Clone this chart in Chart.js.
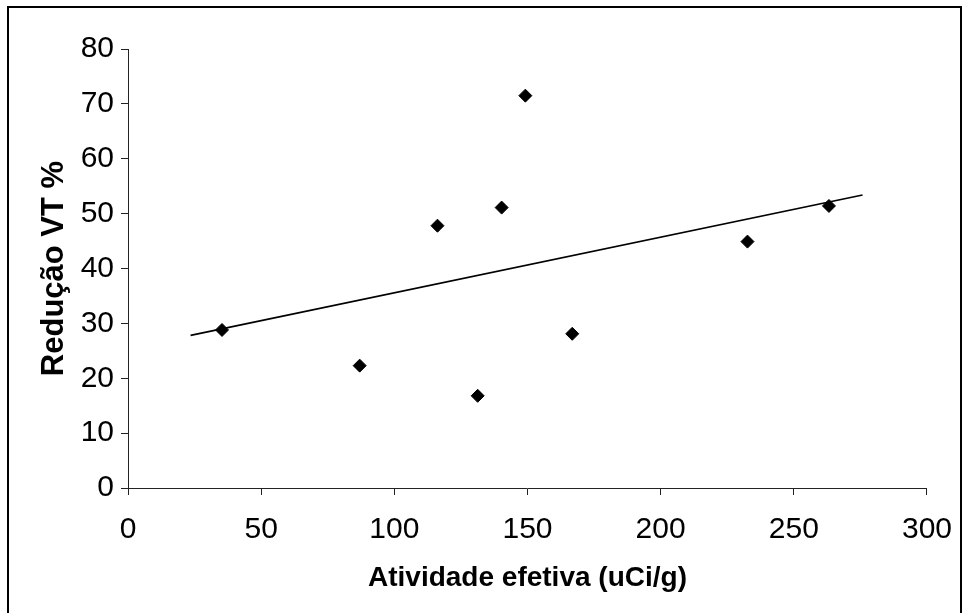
<!DOCTYPE html>
<html>
<head>
<meta charset="utf-8">
<script src="https://cdn.jsdelivr.net/npm/chart.js@4.4.1/dist/chart.umd.min.js"></script>
<style>
  html, body { margin: 0; padding: 0; background: #fff; overflow: hidden; width: 969px; height: 613px; }
  #frame { position: absolute; left: 7px; top: 6px; width: 951px; height: 700px; border: 2px solid #000; box-sizing: content-box; }
  #c { position: absolute; left: 0; top: 0; }
</style>
</head>
<body>
<div id="frame"></div>
<canvas id="c" width="969" height="613"></canvas>
<script>
// Data
const activity = [35.3, 87.0, 116.2, 131.3, 140.3, 149.2, 166.8, 232.6, 263.2];
const reduction = [28.8, 22.3, 47.8, 16.8, 51.1, 71.5, 28.1, 44.9, 51.4];
// Linear trendline end points
const trendX = [23.5, 275.8];
const trendY = [27.8, 53.4];
// Axis ranges / ticks
const xTicks = [0, 50, 100, 150, 200, 250, 300];
const yTicks = [0, 10, 20, 30, 40, 50, 60, 70, 80];
const xTitle = 'Atividade efetiva (uCi/g)';
const yTitle = 'Redução VT %';

const points = activity.map((x, i) => ({ x: x, y: reduction[i] }));
const trend = trendX.map((x, i) => ({ x: x, y: trendY[i] }));

const tickFont = { family: '"Liberation Sans", Arial, sans-serif', size: 30 };
const xTitleFont = { family: '"Liberation Sans", Arial, sans-serif', size: 28, weight: 'bold' };
const yTitleFont = { family: '"Liberation Sans", Arial, sans-serif', size: 31, weight: 'bold' };

new Chart(document.getElementById('c'), {
  type: 'scatter',
  data: {
    datasets: [
      {
        label: 'Dados',
        data: points,
        pointStyle: 'rectRot',
        pointRadius: 6.5,
        pointHoverRadius: 6.5,
        pointBackgroundColor: '#000',
        pointBorderColor: '#000',
        pointBorderWidth: 1,
        showLine: false,
        order: 1
      },
      {
        label: 'Tendência',
        data: trend,
        type: 'line',
        showLine: true,
        borderColor: '#000',
        borderWidth: 1.7,
        pointRadius: 0,
        fill: false,
        tension: 0,
        order: 2
      }
    ]
  },
  options: {
    responsive: false,
    animation: false,
    devicePixelRatio: 1,
    layout: { padding: { left: 0, top: 49, right: 39, bottom: 0 } },
    plugins: { legend: { display: false }, tooltip: { enabled: false } },
    scales: {
      x: {
        type: 'linear',
        min: xTicks[0],
        max: xTicks[xTicks.length - 1],
        afterBuildTicks: (s) => { s.ticks = xTicks.map(v => ({ value: v })); },
        afterFit: (s) => { s.height = 125; },
        grid: { display: true, drawOnChartArea: false, drawTicks: true, tickLength: 7, color: '#222', lineWidth: 1 },
        border: { display: true, color: '#222', width: 1 },
        ticks: { color: '#000', font: tickFont, padding: 17, maxRotation: 0, autoSkip: false },
        title: { display: true, text: xTitle, color: '#000', font: xTitleFont, padding: { top: 0, bottom: 18 } }
      },
      y: {
        type: 'linear',
        min: yTicks[0],
        max: yTicks[yTicks.length - 1],
        afterBuildTicks: (s) => { s.ticks = yTicks.map(v => ({ value: v })); },
        afterFit: (s) => { s.width = 128; },
        grid: { display: true, drawOnChartArea: false, drawTicks: true, tickLength: 7, color: '#222', lineWidth: 1 },
        border: { display: true, color: '#222', width: 1 },
        ticks: { color: '#000', font: tickFont, padding: 7, autoSkip: false },
        title: { display: true, text: yTitle, color: '#000', font: yTitleFont, padding: { top: 36, bottom: 0 } }
      }
    }
  }
});
</script>
</body>
</html>
